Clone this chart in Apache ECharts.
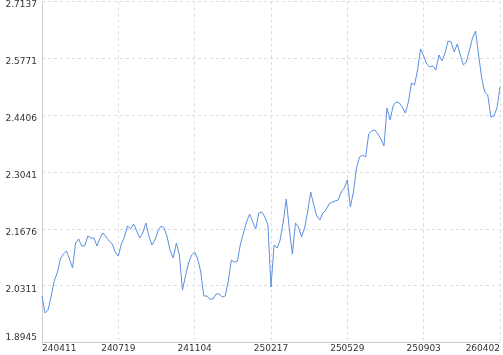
<!DOCTYPE html>
<html>
<head>
<meta charset="utf-8">
<script src="https://cdn.jsdelivr.net/npm/echarts@6/dist/echarts.min.js"></script>
<style>
html,body{margin:0;padding:0;background:#fff;}
#chart{width:503px;height:355px;}
</style>
</head>
<body>
<div id="chart"></div>
<script>
// x tick labels (one every 25 points)
const xTickLabels = ['240411','240719','241104','250217','250529','250903','260402'];
const pointsPerTick = 25;

// y axis range and labels
const yMin = 1.894537;
const yMax = 2.713663;
const yStep = 0.136521;

// series values
const values = [
  2.0062,1.9654,1.9726,2.0062,2.0423,2.0615,2.0951,2.1071,2.1143,2.0951,
  2.0735,2.1335,2.1432,2.1263,2.1263,2.1504,2.1456,2.1456,2.1263,2.1456,
  2.1576,2.1480,2.1384,2.1311,2.1119,2.1023,2.1311,2.1480,2.1744,2.1672,
  2.1792,2.1624,2.1456,2.1576,2.1816,2.1504,2.1287,2.1408,2.1624,2.1744,
  2.1696,2.1480,2.1143,2.0975,2.1335,2.1047,2.0206,2.0543,2.0855,2.1047,
  2.1119,2.0951,2.0639,2.0062,2.0062,1.9990,1.9990,2.0110,2.0110,2.0038,
  2.0062,2.0423,2.0927,2.0879,2.0903,2.1311,2.1576,2.1840,2.2032,2.1840,
  2.1672,2.2056,2.2080,2.1960,2.1768,2.0278,2.1287,2.1215,2.1408,2.1840,
  2.2392,2.1672,2.1071,2.1816,2.1720,2.1480,2.1696,2.2080,2.2561,2.2248,
  2.1984,2.1888,2.2056,2.2128,2.2272,2.2320,2.2344,2.2368,2.2561,2.2657,
  2.2849,2.2200,2.2561,2.3137,2.3401,2.3449,2.3401,2.3954,2.4026,2.4050,
  2.3954,2.3834,2.3666,2.4579,2.4290,2.4627,2.4723,2.4699,2.4603,2.4458,
  2.4723,2.5179,2.5131,2.5491,2.5996,2.5828,2.5636,2.5564,2.5588,2.5491,
  2.5852,2.5708,2.5900,2.6188,2.6164,2.5924,2.6116,2.5852,2.5612,2.5684,
  2.5972,2.6260,2.6428,2.5852,2.5299,2.4963,2.4891,2.4362,2.4386,2.4579,
  2.5083
];

const categories = values.map((v, i) => (i % pointsPerTick === 0 ? (xTickLabels[i / pointsPerTick] || '') : ''));

const FONT = 'DejaVu Sans';
const chart = echarts.init(document.getElementById('chart'), null, {renderer: 'canvas'});
chart.setOption({
  animation: false,
  backgroundColor: '#fff',
  grid: {left: 42, right: 2, top: 1.5, bottom: 12.5, containLabel: false},
  xAxis: {
    type: 'category',
    data: categories,
    boundaryGap: false,
    axisLine: {show: true, lineStyle: {color: '#cccccc', width: 1}},
    axisTick: {show: false},
    axisLabel: {
      interval: pointsPerTick - 1,
      margin: 2,
      color: '#333',
      fontFamily: FONT,
      fontSize: 9,
      alignMinLabel: 'left',
      alignMaxLabel: 'right'
    },
    splitLine: {show: true, interval: pointsPerTick - 1, lineStyle: {color: '#dddddd', type: [3, 3], width: 1}}
  },
  yAxis: {
    type: 'value',
    min: yMin,
    max: yMax,
    interval: yStep,
    axisLine: {show: true, lineStyle: {color: '#cccccc', width: 1}},
    axisTick: {show: false},
    axisLabel: {
      margin: 5,
      color: '#333',
      fontFamily: FONT,
      fontSize: 9,
      formatter: function (v, idx) {
        const s = Number(v).toFixed(4);
        return idx === 0 ? '{b|' + s + '}' : '{t|' + s + '}';
      },
      rich: {
        t: {padding: [7, 0, 0, 0], fontFamily: FONT, fontSize: 9, color: '#333'},
        b: {padding: [0, 0, 9, 0], fontFamily: FONT, fontSize: 9, color: '#333'}
      }
    },
    splitLine: {show: true, lineStyle: {color: '#dddddd', type: [3, 3], width: 1}}
  },
  series: [{
    type: 'line',
    data: values,
    showSymbol: false,
    symbol: 'none',
    smooth: false,
    lineStyle: {color: '#5b8fe3', width: 1},
    itemStyle: {color: '#5b8fe3'}
  }]
});
</script>
</body>
</html>
